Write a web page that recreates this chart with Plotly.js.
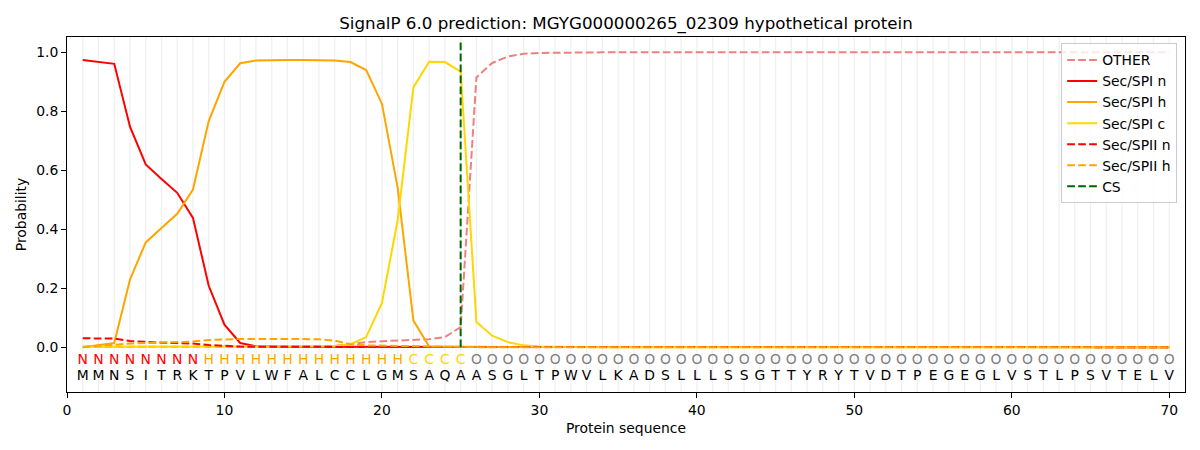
<!DOCTYPE html>
<html>
<head>
<meta charset="utf-8">
<script src="https://cdn.plot.ly/plotly-3.0.1.min.js"></script>
<style>
  html, body { margin: 0; padding: 0; background: #fff; }
  #chart { width: 1200px; height: 450px; }
</style>
</head>
<body>
<div id="chart"></div>
<script>
"use strict";

// residues and predicted region labels, one per position
let sequence = "MMNSITRKTPVLWFALCCLGMSAQAASGLTPWVLKADSLLLSSGTTYRYTVDTPEGEGLVSTLPSVTELV";
let regionLabels = "NNNNNNNNHHHHHHHHHHHHHCCCCOOOOOOOOOOOOOOOOOOOOOOOOOOOOOOOOOOOOOOOOOOOOO";
let cleavageSite = 25;

// per-residue probabilities
let other = [
    0.001, 0.001, 0.001, 0.001, 0.001, 0.001, 0.001, 0.001, 0.001, 0.001,
    0.001, 0.001, 0.001, 0.001, 0.001, 0.001, 0.004, 0.011, 0.017, 0.020,
    0.023, 0.025, 0.027, 0.034, 0.068, 0.914, 0.963, 0.985, 0.994, 0.997,
    0.998, 0.999, 0.999, 0.999, 0.999, 0.999, 0.999, 0.999, 0.999, 0.999,
    0.999, 0.999, 0.999, 0.999, 0.999, 0.999, 0.999, 0.999, 0.999, 0.999,
    0.999, 0.999, 0.999, 0.999, 0.999, 0.999, 0.999, 0.999, 0.999, 0.999,
    0.999, 0.999, 0.999, 0.999, 0.999, 0.999, 0.999, 0.999, 0.999, 0.999
];
let spiN = [
    0.973, 0.967, 0.960, 0.747, 0.619, 0.570, 0.523, 0.438, 0.208, 0.076,
    0.014, 0.003, 0.001, 0.001, 0.001, 0.001, 0.001, 0.001, 0.001, 0.001,
    0.001, 0.001, 0.001, 0, 0, 0, 0, 0, 0, 0,
    0, 0, 0, 0, 0, 0, 0, 0, 0, 0,
    0, 0, 0, 0, 0, 0, 0, 0, 0, 0,
    0, 0, 0, 0, 0, 0, 0, 0, 0, 0,
    0, 0, 0, 0, 0, 0, 0, 0, 0, 0
];
let spiH = [
    0.000, 0.007, 0.014, 0.229, 0.355, 0.404, 0.452, 0.534, 0.766, 0.899,
    0.962, 0.971, 0.973, 0.973, 0.973, 0.973, 0.971, 0.966, 0.939, 0.825,
    0.540, 0.090, 0.002, 0.001, 0.001, 0, 0, 0, 0, 0,
    0, 0, 0, 0, 0, 0, 0, 0, 0, 0,
    0, 0, 0, 0, 0, 0, 0, 0, 0, 0,
    0, 0, 0, 0, 0, 0, 0, 0, 0, 0,
    0, 0, 0, 0, 0, 0, 0, 0, 0, 0
];
let spiC = [
    0.001, 0.001, 0.001, 0.001, 0.001, 0.001, 0.001, 0.001, 0.001, 0.001,
    0.001, 0.001, 0.001, 0.001, 0.001, 0.001, 0.003, 0.010, 0.034, 0.150,
    0.430, 0.881, 0.967, 0.966, 0.934, 0.085, 0.039, 0.017, 0.006, 0.002,
    0.001, 0, 0, 0, 0, 0, 0, 0, 0, 0,
    0, 0, 0, 0, 0, 0, 0, 0, 0, 0,
    0, 0, 0, 0, 0, 0, 0, 0, 0, 0,
    0, 0, 0, 0, 0, 0, 0, 0, 0, 0
];
let spiiN = [
    0.030, 0.030, 0.029, 0.021, 0.017, 0.015, 0.014, 0.012, 0.007, 0.004,
    0.002, 0.001, 0.001, 0.001, 0.001, 0.001, 0.001, 0.001, 0.001, 0.001,
    0, 0, 0, 0, 0, 0, 0, 0, 0, 0,
    0, 0, 0, 0, 0, 0, 0, 0, 0, 0,
    0, 0, 0, 0, 0, 0, 0, 0, 0, 0,
    0, 0, 0, 0, 0, 0, 0, 0, 0, 0,
    0, 0, 0, 0, 0, 0, 0, 0, 0, 0
];
let spiiH = [
    0.000, 0.004, 0.009, 0.012, 0.014, 0.016, 0.017, 0.019, 0.024, 0.027,
    0.028, 0.028, 0.028, 0.028, 0.028, 0.027, 0.022, 0.010, 0.006, 0.005,
    0.004, 0.002, 0.001, 0, 0, 0, 0, 0, 0, 0,
    0, 0, 0, 0, 0, 0, 0, 0, 0, 0,
    0, 0, 0, 0, 0, 0, 0, 0, 0, 0,
    0, 0, 0, 0, 0, 0, 0, 0, 0, 0,
    0, 0, 0, 0, 0, 0, 0, 0, 0, 0
];

let labelColors = {N: "#ff0000", H: "#ffa500", C: "#ffd700", O: "#808080"};

let positions = sequence.split("").map(function (_, i) { return i + 1; });
let FONT = "DejaVu Sans, Liberation Sans, sans-serif";
let DASH = "7.7px,3.3px";

function lineTrace(y, name, color, dash) {
    return {
        x: positions,
        y: y,
        name: name,
        type: "scatter",
        mode: "lines",
        line: {color: color, width: 2, dash: dash || "solid"},
        hoverinfo: "none"
    };
}

let traces = [
    lineTrace(other, "OTHER", "#f08080", DASH),
    lineTrace(spiN, "Sec/SPI n", "#ff0000"),
    lineTrace(spiH, "Sec/SPI h", "#ffa500"),
    lineTrace(spiC, "Sec/SPI c", "#ffd700"),
    lineTrace(spiiN, "Sec/SPII n", "#ff0000", DASH),
    lineTrace(spiiH, "Sec/SPII h", "#ffa500", DASH),
    {
        x: [cleavageSite, cleavageSite],
        y: [0, 1.035],
        name: "CS",
        type: "scatter",
        mode: "lines",
        line: {color: "#006400", width: 2, dash: DASH},
        hoverinfo: "none"
    },
    {   // region label row
        x: positions,
        y: positions.map(function () { return -0.046; }),
        text: regionLabels.split(""),
        type: "scatter",
        mode: "text",
        textposition: "middle center",
        textfont: {family: FONT, size: 13.9, color: regionLabels.split("").map(function (c) { return labelColors[c]; })},
        cliponaxis: false,
        showlegend: false,
        hoverinfo: "none"
    },
    {   // amino acid row
        x: positions,
        y: positions.map(function () { return -0.100; }),
        text: sequence.split(""),
        type: "scatter",
        mode: "text",
        textposition: "middle center",
        textfont: {family: FONT, size: 13.9, color: "#000000"},
        cliponaxis: false,
        showlegend: false,
        hoverinfo: "none"
    }
];

// light vertical guide at every residue
let guides = positions.map(function (p) {
    return {
        type: "line", xref: "x", yref: "paper", x0: p, x1: p, y0: 0, y1: 1,
        line: {color: "#f0f0f0", width: 1.3}, layer: "below"
    };
});

let layout = {
    width: 1200,
    height: 450,
    margin: {l: 67, r: 15, t: 37, b: 58},
    paper_bgcolor: "#ffffff",
    plot_bgcolor: "#ffffff",
    font: {family: FONT, size: 13.9, color: "#000000"},
    title: {
        text: "SignalP 6.0 prediction: MGYG000000265_02309 hypothetical protein",
        font: {family: FONT, size: 16.7, color: "#000000"},
        xref: "paper", x: 0.5, xanchor: "center",
        yref: "container", y: 0.949, yanchor: "middle"
    },
    xaxis: {
        range: [0, 71],
        tickvals: [0, 10, 20, 30, 40, 50, 60, 70],
        ticks: "outside", ticklen: 5, tickwidth: 1, tickcolor: "#000",
        showline: true, mirror: true, linecolor: "#000", linewidth: 1,
        showgrid: false, zeroline: false,
        title: {text: "Protein sequence", font: {size: 13.9}, standoff: 6}
    },
    yaxis: {
        range: [-0.152, 1.051],
        tickvals: [0, 0.2, 0.4, 0.6, 0.8, 1.0],
        tickformat: ".1f",
        ticks: "outside", ticklen: 5, tickwidth: 1, tickcolor: "#000",
        showline: true, mirror: true, linecolor: "#000", linewidth: 1,
        showgrid: false, zeroline: false,
        title: {text: "Probability", font: {size: 13.9}, standoff: 6}
    },
    legend: {
        x: 0.993, xanchor: "right",
        y: 0.982, yanchor: "top",
        bgcolor: "rgba(255,255,255,0.8)",
        bordercolor: "#cccccc", borderwidth: 1,
        font: {family: FONT, size: 13.9},
        tracegroupgap: 0
    },
    shapes: guides,
    showlegend: true
};

Plotly.newPlot("chart", traces, layout, {staticPlot: true, displayModeBar: false});
</script>
</body>
</html>
